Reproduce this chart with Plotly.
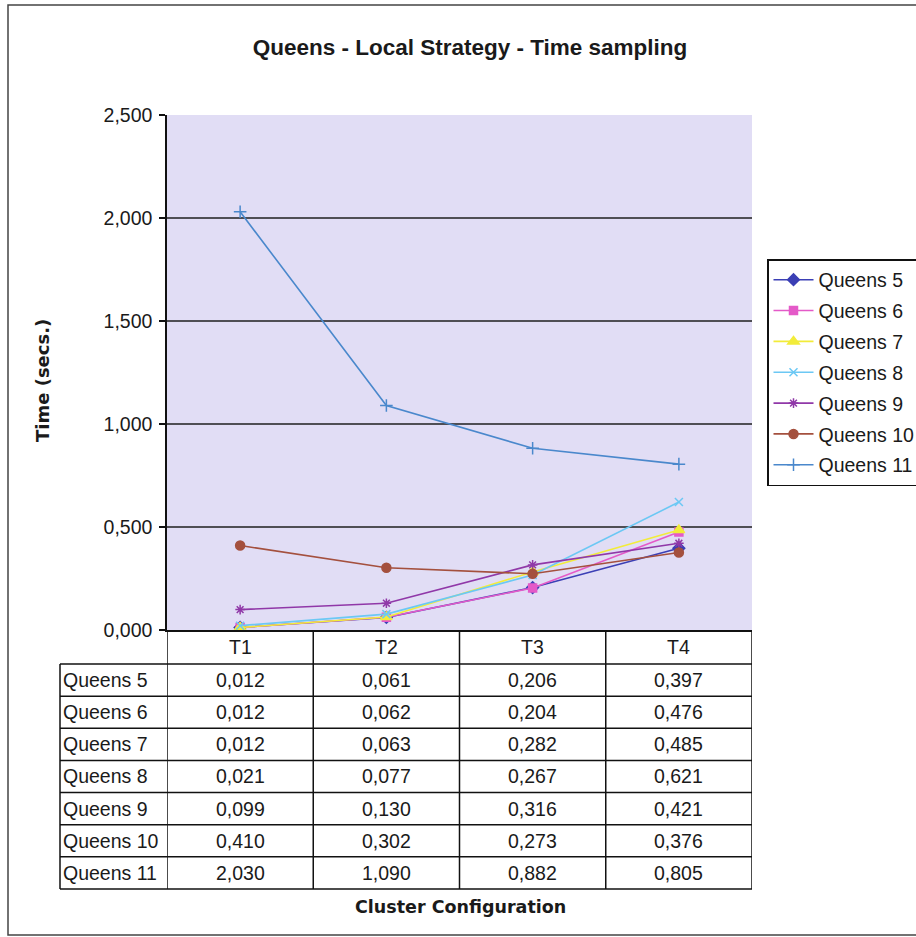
import plotly.graph_objects as go

# Cluster configurations (columns) and sampled run times in seconds
categories = ["T1", "T2", "T3", "T4"]
series_names = ["Queens 5", "Queens 6", "Queens 7", "Queens 8",
                "Queens 9", "Queens 10", "Queens 11"]
queens_5 = [0.012, 0.061, 0.206, 0.397]
queens_6 = [0.012, 0.062, 0.204, 0.476]
queens_7 = [0.012, 0.063, 0.282, 0.485]
queens_8 = [0.021, 0.077, 0.267, 0.621]
queens_9 = [0.099, 0.130, 0.316, 0.421]
queens_10 = [0.410, 0.302, 0.273, 0.376]
queens_11 = [2.030, 1.090, 0.882, 0.805]
series_values = [queens_5, queens_6, queens_7, queens_8,
                 queens_9, queens_10, queens_11]
y_ticks = [0.0, 0.5, 1.0, 1.5, 2.0, 2.5]

colors = ["#3B3FB5", "#E45AC8", "#F2EC3A", "#6CC8F4",
          "#9038A8", "#A4503E", "#4A88CC"]
symbols = ["diamond", "square", "triangle-up", "x-thin-open",
           "asterisk-open", "circle", "cross-thin-open"]
sizes = [9, 8, 10, 8, 8, 9, 9]

W, H = 916, 937
L, R, T, B = 167, 752, 115, 630          # plot area in pixels
pw, ph = R - L, B - T

def px_x(x):
    return (x - L) / pw

def px_y(y):
    return (B - y) / ph

FONT = "Liberation Sans, Arial, sans-serif"
TXT = "#1a1a1a"

fig = go.Figure()
for name, vals, c, s, sz in zip(series_names, series_values, colors, symbols, sizes):
    fig.add_trace(go.Scatter(
        x=categories, y=vals, name=name, mode="lines+markers",
        legendgroup=name,
        line=dict(color=c, width=1.6),
        marker=dict(symbol=s, size=sz, color=c, line=dict(color=c, width=1.5)),
    ))

shapes = []
# horizontal gridlines (the top edge of the plot has none)
for v in y_ticks[1:-1]:
    shapes.append(dict(type="line", xref="paper", yref="y", x0=0, x1=1, y0=v, y1=v,
                       line=dict(color="#1e1e1e", width=1.6), layer="below"))

# data table under the plot
header_h = 34
row_h = 32.14
label_left = 60
n_rows = len(series_names)
table_top = B
rows_top = B + header_h
table_bottom = rows_top + n_rows * row_h
line_style = dict(color="#111", width=1.5)

for i in range(len(categories) + 1):
    shapes.append(dict(type="line", xref="x", yref="paper", x0=i - 0.5, x1=i - 0.5,
                       y0=px_y(table_top), y1=px_y(table_bottom), line=line_style))
shapes.append(dict(type="line", xref="paper", yref="paper",
                   x0=px_x(label_left), x1=px_x(label_left),
                   y0=px_y(rows_top), y1=px_y(table_bottom), line=line_style))
for r in range(n_rows + 1):
    yy = rows_top + r * row_h
    shapes.append(dict(type="line", xref="paper", yref="paper",
                       x0=px_x(label_left), x1=1, y0=px_y(yy), y1=px_y(yy),
                       line=line_style))

# outer chart frame
shapes.append(dict(type="rect", xref="paper", yref="paper",
                   x0=px_x(8), x1=px_x(940), y0=px_y(935), y1=px_y(5),
                   line=dict(color="#444", width=1.5), fillcolor="rgba(0,0,0,0)",
                   layer="below"))

cell_font = dict(family=FONT, size=19.5, color=TXT)
annotations = []
for i, cat in enumerate(categories):
    annotations.append(dict(x=i, y=px_y(table_top + header_h / 2), xref="x", yref="paper",
                            text=cat, showarrow=False, xanchor="center", yanchor="middle",
                            font=cell_font))
for r, (name, vals) in enumerate(zip(series_names, series_values)):
    yc = px_y(rows_top + (r + 0.5) * row_h)
    annotations.append(dict(x=px_x(label_left + 1), y=yc, xref="paper", yref="paper",
                            text=name, showarrow=False, xanchor="left", yanchor="middle",
                            font=cell_font))
    for i, v in enumerate(vals):
        annotations.append(dict(x=i, y=yc, xref="x", yref="paper",
                                text=f"{v:.3f}".replace(".", ","), showarrow=False,
                                xanchor="center", yanchor="middle", font=cell_font))

# axis titles
annotations.append(dict(x=px_x(460), y=px_y(907), xref="paper", yref="paper",
                        text="<b>Cluster Configuration</b>", showarrow=False,
                        xanchor="center", yanchor="middle",
                        font=dict(family="DejaVu Sans, Verdana, sans-serif", size=17.5, color=TXT)))
annotations.append(dict(x=px_x(42), y=px_y(381), xref="paper", yref="paper",
                        text="<b>Time (secs.)</b>", showarrow=False, textangle=-90,
                        xanchor="center", yanchor="middle",
                        font=dict(family="DejaVu Sans, Verdana, sans-serif", size=18, color=TXT)))

fig.update_layout(
    width=W, height=H, autosize=False,
    margin=dict(l=L, r=W - R, t=T, b=H - B, autoexpand=False),
    paper_bgcolor="white",
    plot_bgcolor="#E1DDF5",
    separators=",.",
    title=dict(text="<b>Queens - Local Strategy - Time sampling</b>",
               x=px_x(470), xref="paper", xanchor="center",
               y=1 - 47 / H, yref="container", yanchor="middle",
               font=dict(family=FONT, size=22.5, color=TXT)),
    xaxis=dict(type="category", categoryarray=categories, range=[-0.5, len(categories) - 0.5],
               showticklabels=False, ticks="", showgrid=False, zeroline=False,
               showline=True, linecolor="#111", linewidth=1.5),
    yaxis=dict(range=[0, 2.5], tickvals=y_ticks, tickformat=".3f",
               showgrid=False, zeroline=False,
               ticks="outside", ticklen=6, tickwidth=1.5, tickcolor="#111",
               showline=True, linecolor="#111", linewidth=1.5,
               ticklabelstandoff=3,
               tickfont=dict(family=FONT, size=19.5, color=TXT)),
    legend=dict(x=px_x(767), y=px_y(259), xanchor="left", yanchor="top",
                xref="paper", yref="paper",
                bordercolor="#111", borderwidth=1.5, bgcolor="white",
                font=dict(family=FONT, size=19.5, color=TXT),
                tracegroupgap=2.5, itemwidth=40),
    shapes=shapes,
    annotations=annotations,
    showlegend=True,
)

fig.write_html("out.html")
